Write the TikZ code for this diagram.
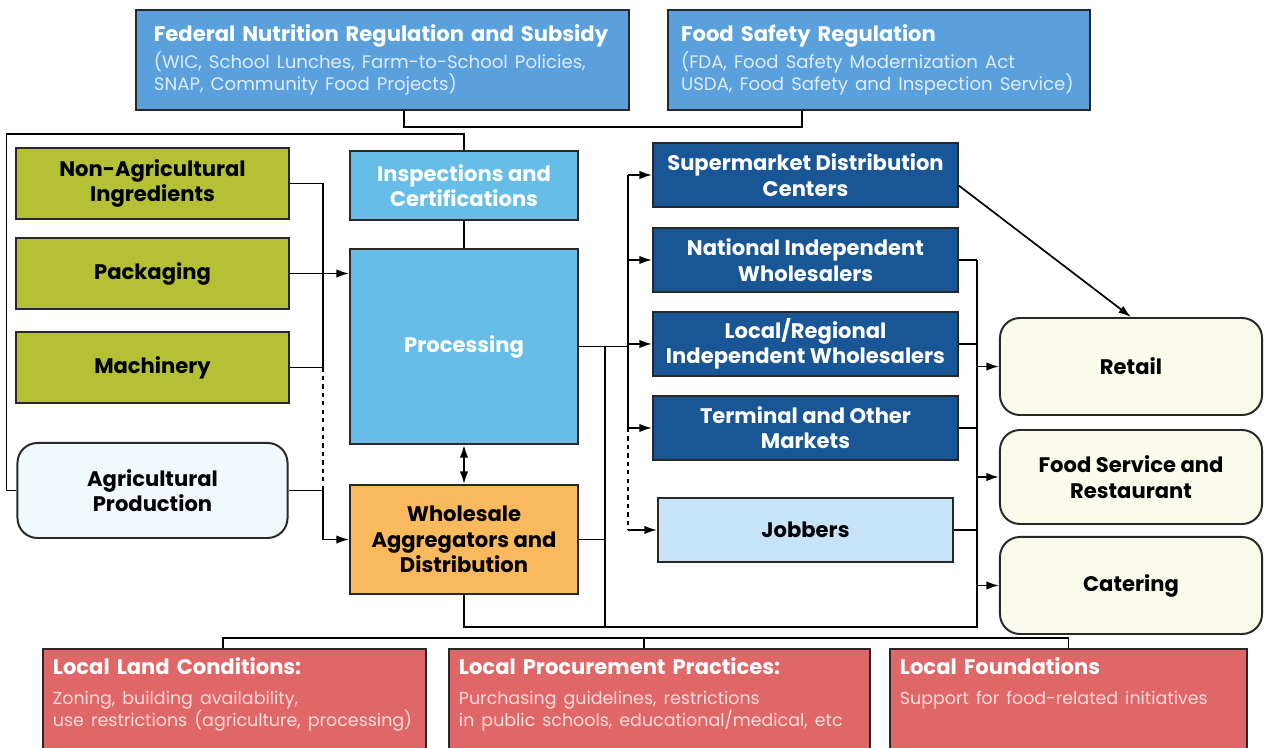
\documentclass[tikz,border=0pt]{standalone}
\usepackage{fontspec}
\setmainfont{Poppins}
\usetikzlibrary{arrows.meta,positioning}

\definecolor{fedblue}{RGB}{90,160,220}
\definecolor{subblue}{RGB}{222,236,250}
\definecolor{leaf}{RGB}{181,193,52}
\definecolor{sky}{RGB}{102,190,232}
\definecolor{amber}{RGB}{249,185,92}
\definecolor{navy}{RGB}{24,86,150}
\definecolor{pale}{RGB}{198,227,248}
\definecolor{cream}{RGB}{251,251,236}
\definecolor{mist}{RGB}{242,249,253}
\definecolor{rose}{RGB}{224,103,103}
\definecolor{blush}{RGB}{250,220,220}
\definecolor{edge}{RGB}{40,40,40}

\newcommand{\labelfont}{\fontsize{15}{18}\selectfont\bfseries}
\newcommand{\notefont}{\fontsize{12.9}{15.5}\selectfont\mdseries}
\newcommand{\policynote}[1]{{\notefont\noindent\color{subblue}#1\par}}
\newcommand{\civicnote}[1]{{\fontsize{12.4}{15.5}\selectfont\mdseries\noindent\color{blush}#1\par}}

\tikzstyle{box} = [rectangle, draw=edge, line width=1.4pt, align=center, font=\labelfont]
\tikzstyle{policy} = [box, fill=fedblue, text=white, align=left, inner xsep=0.45cm, minimum height=2.5cm]
\tikzstyle{supply} = [box, fill=leaf, minimum width=6.825cm, minimum height=1.775cm]
\tikzstyle{farm} = [box, fill=mist, rounded corners=0.5cm, minimum width=6.75cm, minimum height=2.375cm]
\tikzstyle{core} = [box, fill=sky, text=white, minimum width=5.7cm]
\tikzstyle{channel} = [box, fill=navy, text=white, minimum width=7.625cm, minimum height=1.6cm]
\tikzstyle{outlet} = [box, fill=cream, rounded corners=0.5cm, minimum width=6.55cm, minimum height=2.425cm]
\tikzstyle{civic} = [box, fill=rose, text=white, align=left, anchor=north west, inner xsep=0.25cm, inner ysep=0.22cm, text depth=3cm]

\begin{document}
\begin{tikzpicture}[x=0.025cm, y=-0.025cm, node distance=0.45cm, line width=1.2pt, >={Latex[length=9pt,width=6pt]}]
    \useasboundingbox (0,0) rectangle (1264,748);
    \clip (0,0) rectangle (1264,748);

    \node [policy, text width=11.425cm] (fed) at (382.5,60) {Federal Nutrition Regulation and Subsidy\par\vspace{2pt}\policynote{(WIC, School Lunches, Farm-to-School Policies,\\ SNAP, Community Food Projects)}};
    \node [policy, text width=9.9cm, inner xsep=0.325cm, right=0.925cm of fed] (fsr) {Food Safety Regulation\par\vspace{2pt}\policynote{(FDA, Food Safety Modernization Act\\ USDA, Food Safety and Inspection Service)}};

    \node [supply] (nonag) at (152.5,183.5) {Non-Agricultural\\Ingredients};
    \node [supply, below=0.425cm of nonag] (pack) {Packaging};
    \node [supply, below=0.525cm of pack] (mach) {Machinery};
    \node [farm, below=0.95cm of mach] (agprod) {Agricultural\\Production};

    \node [core, minimum height=1.725cm] (insp) at (464,185.5) {Inspections and\\Certifications};
    \node [core, minimum height=4.875cm, below=0.675cm of insp] (proc) {Processing};
    \node [box, fill=amber, minimum width=5.7cm, minimum height=2.725cm, below=0.975cm of proc] (whole) {Wholesale\\Aggregators and\\Distribution};

    \node [channel] (smkt) at (805.5,175) {Supermarket Distribution\\Centers};
    \node [channel, below=0.475cm of smkt] (natl) {National Independent\\Wholesalers};
    \node [channel, below=of natl] (local) {Local/Regional\\Independent Wholesalers};
    \node [channel, below=of local] (term) {Terminal and Other\\Markets};
    \node [channel, fill=pale, text=black, minimum width=7.375cm, below=0.9cm of term] (jobb) {Jobbers};

    \node [outlet] (retail) at (1131,366.5) {Retail};
    \node [outlet, minimum height=2.35cm, below=0.325cm of retail] (fserv) {Food Service and\\Restaurant};
    \node [outlet, below=0.275cm of fserv] (cater) {Catering};

    \node [civic, text width=9.075cm] (land) at (42,648) {Local Land Conditions:\par\vspace{6pt}\civicnote{Zoning, building availability,\\ use restrictions (agriculture, processing)}};
    \node [civic, text width=10.025cm] (procure) at (448,648) {Local Procurement Practices:\par\vspace{6pt}\civicnote{Purchasing guidelines, restrictions\\ in public schools, educational/medical, etc}};
    \node [civic, text width=8.425cm] (found) at (889,648) {Local Foundations\par\vspace{6pt}\civicnote{Support for food-related initiatives}};

    \draw ([xshift=0.54cm]fed.south) -- ++(0,16) -| ([xshift=-1.925cm]fsr.south);
    \draw (agprod.west) -- ++(-10,0) |- (insp.north |- 0,134) -- (insp.north);
    \draw (insp) -- (proc);
    \draw [<->] (proc) -- (whole);

    \draw (mach.east) -- ++(33,0) coordinate (feed);
    \draw (nonag.east) -| (feed);
    \draw [->] (pack.east) -- (pack.east -| proc.west);
    \draw [dashed] (feed) -- (feed |- agprod.east);
    \draw [->] (agprod.east) -- (feed |- agprod.east) |- (whole.west);

    \draw (proc.east) -- ++(26,0) coordinate (drop) -- ++(23,0) coordinate (split);
    \draw (split |- smkt.west) -- (split |- term.west);
    \draw [dashed] (split |- term.west) -- (split |- jobb.west);
    \foreach \n in {smkt,natl,local,term,jobb}
        \draw [->] (split |- \n.west) -- (\n.west);

    \draw (natl.east) -- ++(18,0) coordinate (gather);
    \draw (whole.south) -- ++(0,32) coordinate (floor) -| (gather);
    \draw (drop) -- (drop |- floor);
    \draw (whole.east) -- (whole.east -| drop);
    \foreach \n in {local,term,jobb}
        \draw (\n.east) -- (\n.east -| gather);
    \foreach \n in {retail,fserv,cater}
        \draw [->] (gather |- \n.west) -- (\n.west);
    \draw [->] (smkt.-4.5) -- (retail.north);

    \draw ([xshift=-0.2875cm]land.north) -- ++(0,-10) -| (found.north);
    \draw ([xshift=-0.3875cm]procure.north) -- ++(0,-10);
\end{tikzpicture}
\end{document}
